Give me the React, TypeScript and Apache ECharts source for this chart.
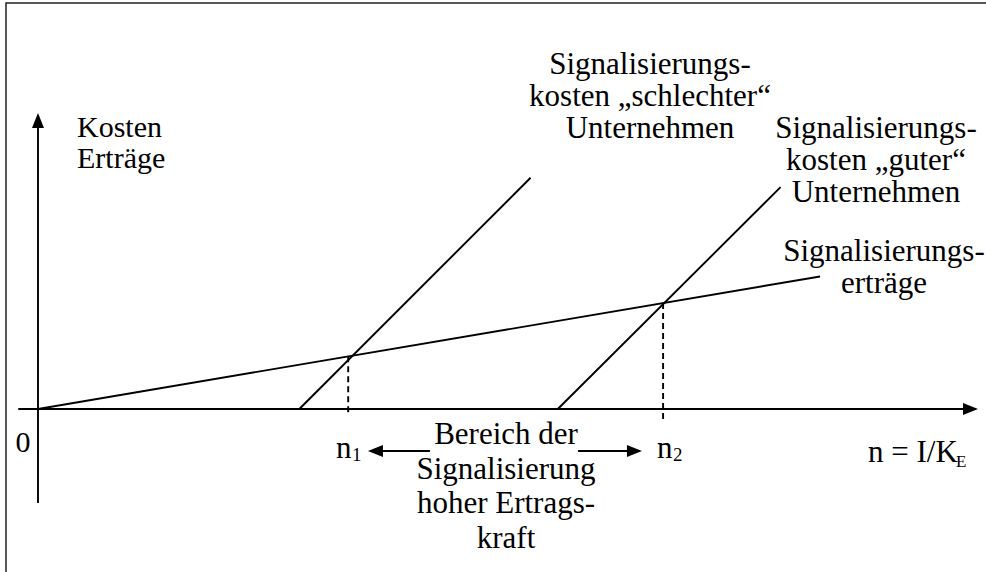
import React, { useEffect, useRef } from "react";
import * as echarts from "echarts";

// ---- data (conceptual units; origin = 0/0) ----
const revenue: number[][] = [[0, 0], [8.32, 1.41]];
const costBad: number[][] = [[2.78, 0], [5.24, 2.46]];
const costGood: number[][] = [[5.53, 0], [7.9, 2.36]];
const n1Drop: number[][] = [[3.3, 0.56], [3.3, -0.04]];
const n2Drop: number[][] = [[6.65, 1.127], [6.65, -0.12]];
const xAxisLine: number[][] = [[-0.21, 0], [10.0, 0]];
const yAxisLine: number[][] = [[0, -1.0], [0, 3.15]];
const rangeArrowLeft: number[][] = [[4.17, -0.447], [3.51, -0.447]];
const rangeArrowRight: number[][] = [[5.745, -0.447], [6.425, -0.447]];

const labelCostBad = ["Signalisierungs-", "kosten \u201Eschlechter\u201C", "Unternehmen"];
const labelCostGood = ["Signalisierungs-", "kosten \u201Eguter\u201C", "Unternehmen"];
const labelRevenue = ["Signalisierungs-", "erträge"];
const labelYAxis = ["Kosten", "Erträge"];
const labelRange = ["Bereich der", "Signalisierung", "hoher Ertrags-", "kraft"];
const tickOrigin = "0";
const tickN1 = ["n", "1"];
const tickN2 = ["n", "2"];
const xAxisName = ["n = I/K", "E"];

// ---- layout ----
const W = 986;
const H = 572;
const PX = 94; // pixels per unit
const OX = 38; // origin pixel x
const OY = 409; // origin pixel y
const SERIF = "Liberation Serif";

function shorten(seg: number[][], headPx: number): number[][] {
  const [a, b] = seg;
  const dx = b[0] - a[0];
  const dy = b[1] - a[1];
  const len = Math.sqrt(dx * dx + dy * dy);
  const d = headPx / 2 / PX;
  return [a, [b[0] - (dx / len) * d, b[1] - (dy / len) * d]];
}

function arrow(seg: number[][], head: number[]) {
  const s = shorten(seg, head[1]);
  return {
    symbol: ["none", "triangle"],
    symbolSize: head,
    data: [[{ coord: s[0] }, { coord: s[1] }]],
  };
}

function txt(x: number, y: number, lines: string[] | string, opts: any = {}) {
  return {
    type: "text",
    x,
    y,
    silent: true,
    style: {
      text: Array.isArray(lines) ? lines.join("\n") : lines,
      fontFamily: SERIF,
      fontSize: opts.fontSize ?? 31,
      lineHeight: opts.lineHeight ?? 32,
      align: opts.align ?? "left",
      verticalAlign: opts.verticalAlign ?? "top",
      fill: "#000",
    },
  };
}

function lineSeries(data: number[][], dashed = false, width = 1.9) {
  return {
    type: "line",
    data,
    symbol: "none",
    silent: true,
    lineStyle: { color: "#000", width, type: dashed ? [6, 4] : "solid" },
  };
}

export default function App() {
  const ref = useRef<HTMLDivElement>(null);
  useEffect(() => {
    if (!ref.current) return;
    const chart = echarts.init(ref.current, undefined, { renderer: "svg" });

    const arrowStyle = {
      silent: true,
      label: { show: false },
      emphasis: { disabled: true },
      lineStyle: { color: "#000", width: 1.9, type: "solid" },
      itemStyle: { color: "#000" },
    };

    const axisArrows = [
      { ...arrowStyle, ...arrow(xAxisLine, [12, 15]) },
      { ...arrowStyle, ...arrow(yAxisLine, [12, 15]) },
      { ...arrowStyle, ...arrow(rangeArrowLeft, [12, 15]) },
      { ...arrowStyle, ...arrow(rangeArrowRight, [12, 15]) },
    ];

    const option: any = {
      animation: false,
      backgroundColor: "#fff",
      grid: { left: 0, right: 0, top: 0, bottom: 0 },
      xAxis: {
        type: "value",
        min: -OX / PX,
        max: (W - OX) / PX,
        show: false,
      },
      yAxis: {
        type: "value",
        min: -(H - OY) / PX,
        max: OY / PX,
        show: false,
      },
      series: [
        lineSeries(revenue),
        lineSeries(costBad),
        lineSeries(costGood),
        lineSeries(n1Drop, true),
        lineSeries(n2Drop, true),
        ...axisArrows.map((m) => ({
          type: "line",
          data: [],
          symbol: "none",
          silent: true,
          markLine: m,
        })),
      ],
      graphic: [
        {
          type: "rect",
          silent: true,
          shape: { x: 6, y: 3, width: 1200, height: 800 },
          style: { fill: "none", stroke: "#222", lineWidth: 1.5 },
        },
        txt(650, 47, labelCostBad, { align: "center" }),
        txt(77, 111, labelYAxis, { lineHeight: 31, fontSize: 30 }),
        txt(876, 111, labelCostGood, { align: "center" }),
        txt(884, 234, labelRevenue, { align: "center" }),
        txt(506, 416, labelRange, { align: "center", lineHeight: 34.7 }),
        txt(23, 441, tickOrigin, { align: "center", verticalAlign: "middle", fontSize: 30 }),
        txt(336, 447, tickN1[0], { verticalAlign: "middle" }),
        txt(352, 454, tickN1[1], { verticalAlign: "middle", fontSize: 19, lineHeight: 19 }),
        txt(657, 447, tickN2[0], { verticalAlign: "middle" }),
        txt(673, 454, tickN2[1], { verticalAlign: "middle", fontSize: 19, lineHeight: 19 }),
        txt(868, 451, xAxisName[0], { verticalAlign: "middle" }),
        txt(956, 461, xAxisName[1], { verticalAlign: "middle", fontSize: 17, lineHeight: 17 }),
      ],
    };
    chart.setOption(option);
    return () => chart.dispose();
  }, []);

  return (
    <div
      ref={ref}
      style={{ position: "fixed", left: 0, top: 0, width: W, height: H, background: "#fff" }}
    />
  );
}
